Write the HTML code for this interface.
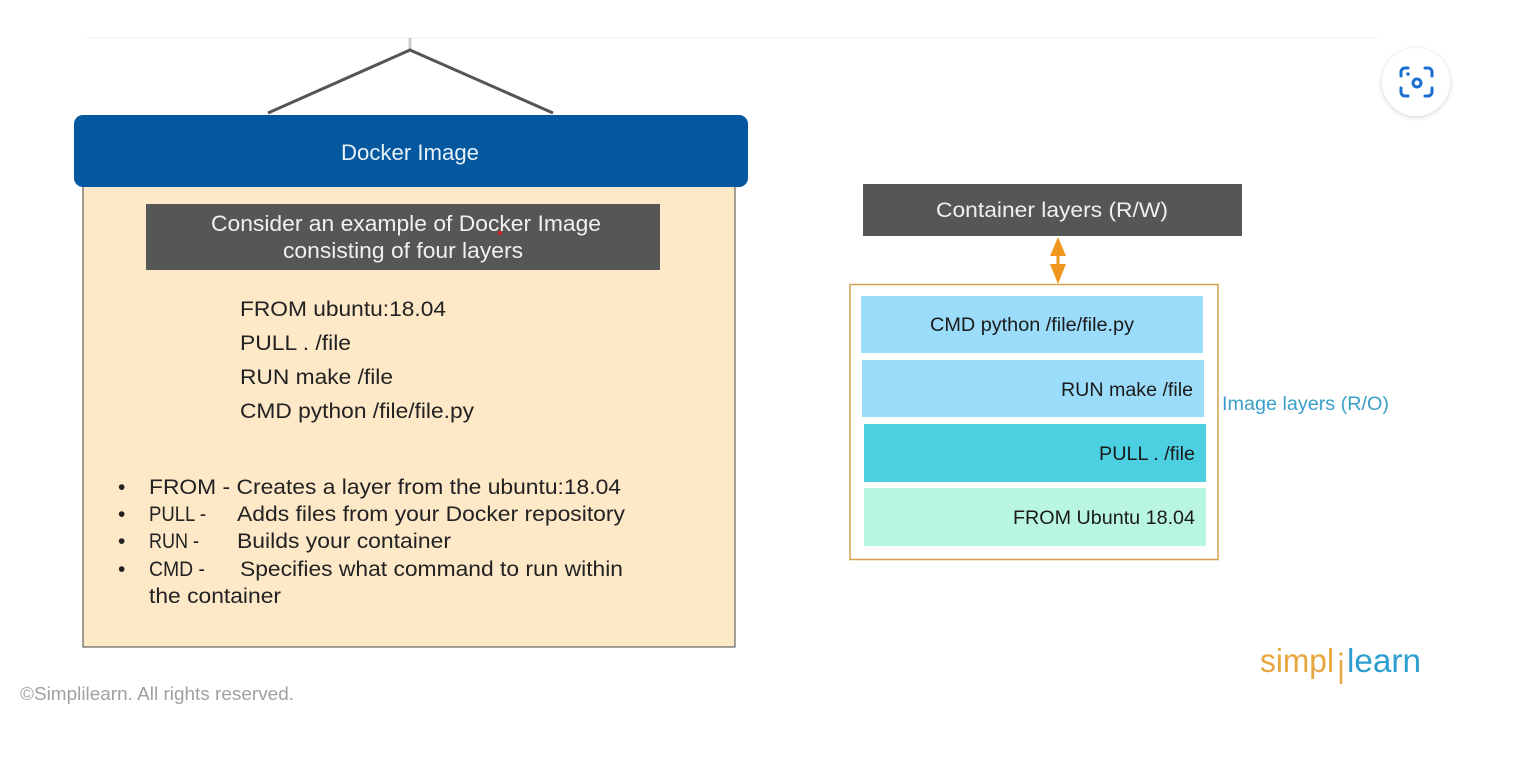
<!DOCTYPE html>
<html><head><meta charset="utf-8"><style>
html,body{margin:0;padding:0;background:#fff;}
svg{display:block;font-family:"Liberation Sans",Arial,sans-serif;}
</style></head><body>
<svg width="1531" height="763" viewBox="0 0 1531 763" xmlns="http://www.w3.org/2000/svg">
<defs><filter id="sh" x="-30%" y="-30%" width="160%" height="160%"><feDropShadow dx="0" dy="1" stdDeviation="2.5" flood-color="#000" flood-opacity="0.18"/></filter></defs>
<line x1="85" y1="38" x2="1380" y2="38" stroke="#f8f8f8" stroke-width="2"/>
<line x1="410" y1="38" x2="410" y2="52" stroke="#ccc" stroke-width="3"/>
<polyline points="268,113 410,50 553,113" fill="none" stroke="#555" stroke-width="3"/>
<rect x="83" y="180" width="652" height="467" fill="#fde8c8" stroke="#444" stroke-width="1"/>
<rect x="74" y="115" width="674" height="72" rx="9" fill="#0458a0"/>
<g lengthAdjust="spacingAndGlyphs">
<text x="410" y="160" text-anchor="middle" font-size="22" fill="#e8f0f8" textLength="138" lengthAdjust="spacingAndGlyphs">Docker Image</text>
<rect x="146" y="204" width="514" height="66" fill="#565656"/>
<text x="406" y="231" text-anchor="middle" font-size="22" fill="#f0f0f0" textLength="390" lengthAdjust="spacingAndGlyphs">Consider an example of Docker Image</text>
<text x="403" y="258" text-anchor="middle" font-size="22" fill="#f0f0f0" textLength="240" lengthAdjust="spacingAndGlyphs">consisting of four layers</text>
</g>
<circle cx="500" cy="233" r="2" fill="#e02020"/>
<g font-size="21" fill="#222">
<text x="240" y="316" textLength="206" lengthAdjust="spacingAndGlyphs">FROM ubuntu:18.04</text>
<text x="240" y="350" textLength="111" lengthAdjust="spacingAndGlyphs">PULL . /file</text>
<text x="240" y="384" textLength="153" lengthAdjust="spacingAndGlyphs">RUN make /file</text>
<text x="240" y="418" textLength="234" lengthAdjust="spacingAndGlyphs">CMD python /file/file.py</text>
<text x="118" y="494">•</text><text x="149" y="494" textLength="472" lengthAdjust="spacingAndGlyphs">FROM - Creates a layer from the ubuntu:18.04</text>
<text x="118" y="521">•</text><text x="149" y="521" textLength="57" lengthAdjust="spacingAndGlyphs">PULL -</text><text x="237" y="521" textLength="388" lengthAdjust="spacingAndGlyphs">Adds files from your Docker repository</text>
<text x="118" y="548">•</text><text x="149" y="548" textLength="50" lengthAdjust="spacingAndGlyphs">RUN -</text><text x="237" y="548" textLength="214" lengthAdjust="spacingAndGlyphs">Builds your container</text>
<text x="118" y="576">•</text><text x="149" y="576" textLength="56" lengthAdjust="spacingAndGlyphs">CMD -</text><text x="240" y="576" textLength="383" lengthAdjust="spacingAndGlyphs">Specifies what command to run within</text>
<text x="149" y="603" textLength="132" lengthAdjust="spacingAndGlyphs">the container</text>
</g>
<rect x="863" y="184" width="379" height="52" fill="#565656"/>
<text x="1052" y="217" text-anchor="middle" font-size="21" fill="#f0f0f0" textLength="232" lengthAdjust="spacingAndGlyphs">Container layers (R/W)</text>
<line x1="1058" y1="250" x2="1058" y2="272" stroke="#f0961e" stroke-width="3"/>
<polygon points="1058,237 1050,256 1066,256" fill="#f0961e"/>
<polygon points="1058,284 1050,264 1066,264" fill="#f0961e"/>
<rect x="850" y="284.5" width="368" height="275" fill="#fff" stroke="#d4a050" stroke-width="1.5"/>
<rect x="861" y="296" width="342" height="57" fill="#9bdcfa"/>
<rect x="862" y="360" width="342" height="57" fill="#9bdcfa"/>
<rect x="864" y="424" width="342" height="58" fill="#4dcfe2"/>
<rect x="864" y="488" width="342" height="58" fill="#b8f6e2"/>
<g font-size="19" fill="#1a1a1a">
<text x="930" y="331" textLength="204" lengthAdjust="spacingAndGlyphs">CMD python /file/file.py</text>
<text x="1193" y="396" text-anchor="end" textLength="132" lengthAdjust="spacingAndGlyphs">RUN make /file</text>
<text x="1195" y="460" text-anchor="end" textLength="96" lengthAdjust="spacingAndGlyphs">PULL . /file</text>
<text x="1195" y="524" text-anchor="end" textLength="182" lengthAdjust="spacingAndGlyphs">FROM Ubuntu 18.04</text>
</g>
<text x="1222" y="410" font-size="19" fill="#3a9ec8" textLength="167" lengthAdjust="spacingAndGlyphs">Image layers (R/O)</text>
<text x="20" y="700" font-size="18" fill="#a0a0a0" textLength="274" lengthAdjust="spacingAndGlyphs">©Simplilearn. All rights reserved.</text>
<text x="1260" y="672" font-size="33" fill="#e8a640" textLength="74" lengthAdjust="spacingAndGlyphs">simpl</text>
<line x1="1341" y1="660" x2="1341" y2="684" stroke="#e8a640" stroke-width="2.5"/>
<circle cx="1341" cy="654" r="1.6" fill="#e8a640"/>
<text x="1347" y="672" font-size="33" fill="#2d9ed0" textLength="74" lengthAdjust="spacingAndGlyphs">learn</text>
<circle cx="1416" cy="82" r="34" fill="#fff" filter="url(#sh)"/>
<g fill="none" stroke="#1a6fd0" stroke-width="3" stroke-linecap="round">
<path d="M1401 76 v-4 a4 4 0 0 1 4 -4 h3"/>
<path d="M1425 68 h3 a4 4 0 0 1 4 4 v4"/>
<path d="M1401 88 v4 a4 4 0 0 0 4 4 h3"/>
<path d="M1425 96 h3 a4 4 0 0 0 4 -4 v-4"/>
<circle cx="1417" cy="83" r="4"/>
</g>
<circle cx="1408" cy="74" r="1.8" fill="#1a6fd0"/>
</svg>
</body></html>
